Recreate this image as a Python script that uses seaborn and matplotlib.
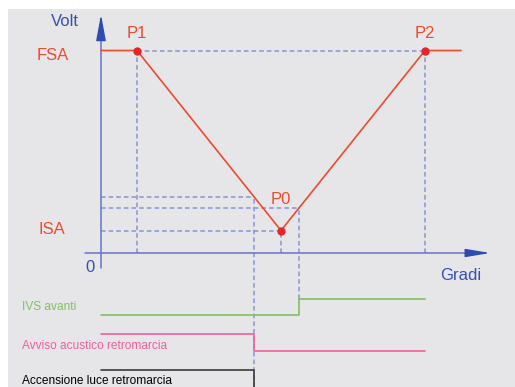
import numpy as np
import seaborn as sns
import matplotlib.pyplot as plt
from matplotlib.patches import Rectangle

# characteristic curve (degrees, volts)
curve_deg = [0, 10, 50, 90, 100]
curve_volt = [4.5, 4.5, 0.5, 4.5, 4.5]
points = {'P1': (10, 4.5), 'P0': (50, 0.5), 'P2': (90, 4.5)}
fsa, isa = 4.5, 0.5
thr_off = 1.25   # threshold crossed on the falling side
thr_on = 1.0     # threshold crossed on the rising side

# logic outputs: state before / after the switching point
ivs_states = [0, 1]
avviso_states = [1, 0]
luce_states = [1, 0]
signal_end = 90

red = '#ee4a2c'
blue_txt = '#3550b0'
axis_blue = '#6674c8'
dash_col = '#8a94d2'
green = '#7cc35e'
pink = '#ef5f9c'
dark = '#3a3a3a'

sns.set_theme(style='white')
plt.rcParams['font.family'] = ['Liberation Sans', 'DejaVu Sans']

fig = plt.figure(figsize=(5.15, 3.87), dpi=100, facecolor='white')
fig.patches.append(Rectangle((8 / 515, 0), 1 - 8 / 515, 378 / 387, transform=fig.transFigure,
                             facecolor='#e6e6e8', edgecolor='none', zorder=-10))
ax = fig.add_axes([0, 0, 1, 1])
ax.set_facecolor('none')
ax.set_xlim(-101 / 3.6, 414 / 3.6)
ax.set_ylim(-134 / 45, 253 / 45)
ax.axis('off')

# crossing points of the thresholds with the curve
x_fall = np.interp(thr_off, curve_volt[2:0:-1], curve_deg[2:0:-1])
x_rise = np.interp(thr_on, curve_volt[2:4], curve_deg[2:4])

dash = dict(color=dash_col, lw=1.1, ls=(0, (3, 2)), zorder=2)
ymin = ax.get_ylim()[0]
# guide lines
ax.plot([points['P1'][0], points['P2'][0]], [fsa, fsa], **dash)
ax.plot([points['P1'][0]] * 2, [0, fsa], **dash)
ax.plot([points['P2'][0]] * 2, [0, fsa], **dash)
ax.plot([points['P0'][0]] * 2, [0, isa], **dash)
ax.plot([0, x_fall], [thr_off, thr_off], **dash)
ax.plot([0, x_rise], [thr_on, thr_on], **dash)
ax.plot([0, points['P0'][0]], [isa, isa], **dash)
ax.plot([x_fall, x_fall], [ymin, thr_off], **dash)
ax.plot([x_rise, x_rise], [-1.022, thr_on], **dash)

# axes with arrows
ax.plot([0, 0], [-0.33, 5.0], color=axis_blue, lw=1.1, zorder=3)
ax.plot([-4.4, 104], [0, 0], color=axis_blue, lw=1.1, zorder=3)
ax.annotate('', xy=(0, 5.36), xytext=(0, 4.8),
            arrowprops=dict(arrowstyle='-|>,head_length=1.6,head_width=0.3', color='#2d4bb0',
                            lw=1, mutation_scale=10), zorder=4)
ax.annotate('', xy=(108.9, 0), xytext=(102, 0),
            arrowprops=dict(arrowstyle='-|>,head_length=1.5,head_width=0.25', color='#2d4bb0',
                            lw=1, mutation_scale=10), zorder=4)

# curve
sns.lineplot(x=curve_deg, y=curve_volt, sort=False, estimator=None, color=red, lw=1.2,
             ax=ax, zorder=5)
px, py = zip(*points.values())
ax.plot(px, py, 'o', color='#e8242a', ms=5, zorder=6)

# logic signals: (low level, high level, states, switch point, colour)
rows = [(-1.378, -1.022, ivs_states, x_rise, green),
        (-2.178, -1.8, avviso_states, x_fall, pink),
        (-3.0, -2.6, luce_states, x_fall, dark)]
for low, high, states, xs, col in rows:
    lev = [high if s else low for s in states]
    sns.lineplot(x=[0, xs, xs, signal_end], y=[lev[0], lev[0], lev[1], lev[1]],
                 sort=False, estimator=None, color=col, lw=1.2, ax=ax, zorder=4)

# texts
def at(px_, py_):
    return (px_ - 101) / 3.6, (253 - py_) / 45

tk = dict(fontsize=12, ha='center', va='center')
ax.text(*at(65, 22), 'Volt', color=blue_txt, **tk)
ax.text(*at(53, 56), 'FSA', color=red, **tk)
ax.text(*at(52, 230), 'ISA', color=red, **tk)
ax.text(*at(90, 267), '0', color=blue_txt, **tk)
ax.text(*at(461, 276), 'Gradi', color=blue_txt, **tk)
ax.text(*at(137, 33), 'P1', color=red, **tk)
ax.text(*at(425, 33), 'P2', color=red, **tk)
ax.text(*at(281, 200), 'P0', color=red, **tk)
lk = dict(fontsize=8.6, ha='left', va='center')
ax.text(*at(22, 307), 'IVS avanti', color=green, **lk)
ax.text(*at(22, 346), 'Avviso acustico retromarcia', color=pink, **lk)
ax.text(*at(22, 381), 'Accensione luce retromarcia', color='black', **lk)

fig.savefig('out.png', dpi=100, facecolor='white')
